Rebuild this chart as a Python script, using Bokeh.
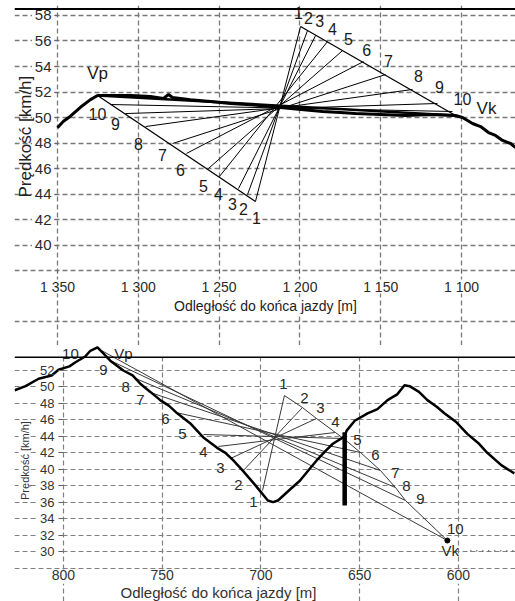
from bokeh.plotting import figure
from bokeh.layouts import column
from bokeh.models import Range1d, FixedTicker, Span, Label, BoxAnnotation, ColumnDataSource
from bokeh.core.properties import value
from bokeh.embed import file_html
from bokeh.resources import INLINE

# ---------------- top chart data ----------------
top_dist = [1350.0, 1346.3, 1342.0, 1335.8, 1329.6, 1325.2, 1317.2, 1304.8, 1292.5, 1284.4,
            1281.3, 1278.8, 1267.7, 1255.3, 1242.9, 1230.6, 1218.2, 1205.8, 1186.0, 1174.9,
            1165.6, 1150.1, 1134.7, 1119.2, 1103.7, 1099.4, 1093.2, 1088.2, 1083.3, 1079.0,
            1074.6, 1069.6, 1066.6]
top_speed = [49.2, 49.7, 50.1, 50.8, 51.4, 51.73, 51.73, 51.73, 51.65, 51.5,
             51.8, 51.57, 51.4, 51.25, 51.1, 51.0, 50.86, 50.71, 50.47, 50.39,
             50.31, 50.24, 50.16, 50.24, 50.16, 50.0, 49.53, 49.29, 48.82, 48.59,
             48.2, 47.96, 47.65]

top_vp = (1325.2, 51.73)
top_vk = (1103.7, 50.16)

top_num = ["1", "2", "3", "4", "5", "6", "7", "8", "9", "10"]
top_upper_x = [1199.6, 1195.3, 1190.3, 1182.9, 1173.6, 1160.6, 1147.0, 1130.3, 1114.9, 1105.6]
top_upper_y = [57.14, 56.82, 56.43, 55.96, 55.25, 54.39, 53.37, 52.20, 51.10, 50.47]
top_lower_x = [1227.5, 1232.4, 1238.0, 1249.8, 1256.6, 1270.2, 1278.8, 1295.5, 1307.9, 1317.2]
top_lower_y = [43.41, 43.96, 44.43, 45.37, 46.00, 47.18, 47.96, 49.29, 50.31, 51.02]

top_x_ticks = [1350, 1300, 1250, 1200, 1150, 1100]
top_x_labels = ["1 350", "1 300", "1 250", "1 200", "1 150", "1 100"]
top_y_ticks = [40, 42, 44, 46, 48, 50, 52, 54, 56, 58]
top_y_grid = [34, 38, 40, 42, 44, 46, 48, 50, 52, 54, 56, 58]

# ---------------- bottom chart data ----------------
bot_dist = [824.7, 819.2, 812.6, 806.0, 802.5, 797.0, 793.9, 789.0, 786.4, 782.8,
            780.3, 776.3, 769.7, 765.0, 761.1, 756.0, 751.0, 746.5, 742.4, 735.9,
            729.3, 722.2, 718.0, 714.1, 709.1, 703.0, 696.5, 693.9, 691.4, 685.0,
            680.3, 675.5, 671.7, 667.0, 663.6, 657.6, 656.6, 652.5, 646.0, 641.0,
            635.9, 631.0, 627.3, 624.7, 620.0, 615.7, 611.0, 607.1, 601.0, 595.5,
            590.0, 585.4, 578.3, 571.7]
bot_speed = [49.6, 50.1, 51.0, 51.4, 52.1, 52.5, 53.0, 53.7, 54.4, 54.8,
             54.2, 53.2, 52.0, 51.4, 50.4, 49.4, 48.4, 47.7, 46.8, 45.6,
             43.9, 42.6, 42.0, 41.1, 39.8, 38.1, 36.2, 36.0, 36.2, 37.6,
             38.6, 40.0, 41.1, 42.3, 43.1, 44.0, 44.7, 45.9, 46.8, 47.3,
             48.4, 49.1, 50.2, 50.1, 49.4, 48.4, 47.6, 46.8, 45.7, 44.3,
             43.2, 42.0, 40.5, 39.5]

bot_vp = (782.8, 54.8)
bot_vk = (605.6, 31.34)
bot_bar_x = 657.6
bot_bar_y = (35.6, 44.5)
bot_after_vk_x = [594.0, 571.5]
bot_after_vk_y = [30.1, 30.1]

bot_num = ["1", "2", "3", "4", "5", "6", "7", "8", "9", "10"]
bot_left_x = [699.2, 708.9, 715.4, 721.5, 729.1, 743.3, 756.0, 763.5, 775.2, 782.8]
bot_left_y = [37.42, 39.85, 41.31, 42.77, 44.22, 46.90, 49.33, 51.03, 53.09, 54.70]
bot_right_x = [688.1, 679.0, 671.9, 662.3, 658.2, 649.6, 639.5, 631.9, 626.8, 605.6]
bot_right_y = [48.96, 47.50, 46.17, 44.47, 43.74, 42.04, 39.85, 37.78, 36.20, 31.34]

bot_x_ticks = [800, 750, 700, 650, 600]
bot_y_ticks = [30, 32, 34, 36, 38, 40, 42, 44, 46, 48, 50, 52]
bot_y_grid = [28, 30, 32, 34, 36, 38, 40, 42, 44, 46, 48, 50, 52]

FONT = "Liberation Sans"


def style_axis(ax, size, color, tick_out, standoff):
    ax.axis_line_color = None
    ax.major_tick_in = 0
    ax.major_tick_out = tick_out
    ax.major_tick_line_color = "#666666"
    ax.minor_tick_line_color = None
    ax.major_label_text_font = FONT
    ax.major_label_text_font_size = size
    ax.major_label_text_color = color
    ax.major_label_standoff = standoff


def white_box(p, **kw):
    p.add_layout(BoxAnnotation(fill_color="white", fill_alpha=1.0, line_alpha=0,
                               level="underlay", **kw))


# ================= TOP FIGURE =================
p1 = figure(width=515, height=345, x_range=Range1d(1376.6, 1066.6), y_range=Range1d(32.12, 58.784),
            output_backend="svg", toolbar_location=None,
            min_border_left=14, min_border_right=0, min_border_top=5, min_border_bottom=0)
p1.outline_line_color = None
p1.border_fill_color = "white"
p1.xgrid.ticker = FixedTicker(ticks=top_x_ticks)
p1.ygrid.ticker = FixedTicker(ticks=top_y_grid)
for g in (p1.xgrid, p1.ygrid):
    g.grid_line_color = "#7a7a7a"
    g.grid_line_dash = "5 3"
    g.grid_line_width = 1.3
# label backgrounds (interrupt the grid where tick labels sit)
white_box(p1, left=1352.6, right=1365.8, bottom=39.0, top=58.7)
white_box(p1, bottom=36.2, top=37.3)

xa = p1.xaxis[0]
xa.fixed_location = 38
xa.ticker = FixedTicker(ticks=top_x_ticks)
xa.major_label_overrides = {t: l for t, l in zip(top_x_ticks, top_x_labels)}
style_axis(xa, "14px", "#2a2a2a", 3, 5)
ya = p1.yaxis[0]
ya.fixed_location = 1350
ya.ticker = FixedTicker(ticks=top_y_ticks)
style_axis(ya, "15px", "#2a2a2a", 3, 3)

p1.add_layout(Span(location=58.5, dimension="width", line_color="black", line_width=2))

# fan construction
p1.segment(top_lower_x, top_lower_y, top_upper_x, top_upper_y, line_color="black", line_width=1)
p1.line([top_vp[0], top_lower_x[0]], [top_vp[1], top_lower_y[0]], line_color="black", line_width=1.3)
p1.line([top_upper_x[0], top_vk[0]], [top_upper_y[0], top_vk[1]], line_color="black", line_width=1.3)
p1.line([top_vp[0], top_vk[0]], [top_vp[1], top_vk[1]], line_color="black", line_width=2.5)
# speed record
p1.line(top_dist, top_speed, line_color="black", line_width=3)

up_dx = [-2, 1, 4, 5, 6, 3, 3, 6, 2, 10]
up_dy = [-13, -13, -15, -13, -12, -12, -14, -13, -16, -13]
lo_dx = [1, -4, -6, -1, -5, -6, -10, -7, -10, -13]
lo_dy = [16, 14, 15, 17, 17, 17, 11, 17, 10, 9]
src_u = ColumnDataSource(dict(x=top_upper_x, y=top_upper_y, t=top_num, dx=up_dx, dy=up_dy))
src_l = ColumnDataSource(dict(x=top_lower_x, y=top_lower_y, t=top_num, dx=lo_dx, dy=lo_dy))
for s in (src_u, src_l):
    p1.text(x="x", y="y", text="t", x_offset="dx", y_offset="dy", source=s,
            text_font=value(FONT), text_font_size="16px", text_color="#1a1a1a",
            text_align="center", text_baseline="middle")
p1.text(x=[top_vp[0], top_vk[0]], y=[top_vp[1], top_vk[1]], text=["Vp", "Vk"],
        x_offset=[0, 31], y_offset=[-22, -7],
        text_font=value(FONT), text_font_size="17px", text_color="#1a1a1a",
        text_align="center", text_baseline="middle")

p1.add_layout(Label(x=1221.3, y=35.25, text="Odległość do końca jazdy [m]", text_align="center",
                    text_baseline="middle", text_font=FONT, text_font_size="14px",
                    text_color="#222222", background_fill_color="white"))
p1.add_layout(Label(x=1369.8, y=48.5, text="Prędkość [km/h]", angle=90, angle_units="deg",
                    text_align="center", text_baseline="middle", text_font=FONT,
                    text_font_size="17px", text_color="#222222"))

# ================= BOTTOM FIGURE =================
p2 = figure(width=515, height=256, x_range=Range1d(824.8, 571.1), y_range=Range1d(23.93, 55.04),
            output_backend="svg", toolbar_location=None,
            min_border_left=14, min_border_right=0, min_border_top=0, min_border_bottom=0)
p2.outline_line_color = None
p2.border_fill_color = "white"
p2.xgrid.ticker = FixedTicker(ticks=bot_x_ticks)
p2.ygrid.ticker = FixedTicker(ticks=bot_y_grid)
for g in (p2.xgrid, p2.ygrid):
    g.grid_line_color = "#808080"
    g.grid_line_dash = "5 3"
    g.grid_line_width = 1.2
white_box(p2, bottom=53.6)
white_box(p2, left=802.4, right=813.4, bottom=29.0, top=53.0)
white_box(p2, bottom=26.1, top=27.75)
p2.add_layout(Span(location=53.6, dimension="width", line_color="black", line_width=1.5))

xb = p2.xaxis[0]
xb.fixed_location = 28
xb.ticker = FixedTicker(ticks=bot_x_ticks)
style_axis(xb, "14px", "#333333", 0, 2)
yb = p2.yaxis[0]
yb.fixed_location = 800
yb.ticker = FixedTicker(ticks=bot_y_ticks)
style_axis(yb, "13px", "#333333", 5, 4)

p2.segment(bot_left_x, bot_left_y, bot_right_x, bot_right_y, line_color="#3a3a3a", line_width=1)
p2.line(bot_right_x, bot_right_y, line_color="#3a3a3a", line_width=1)
p2.line(bot_dist, bot_speed, line_color="black", line_width=2.5)
p2.segment([bot_bar_x], [bot_bar_y[0]], [bot_bar_x], [bot_bar_y[1]], line_color="black", line_width=4.5)
p2.scatter([bot_vk[0]], [bot_vk[1]], size=5, color="black")
p2.line(bot_after_vk_x, bot_after_vk_y, line_color="#555555", line_dash="1 5", line_width=1.5)

bl_dx = [-9, -5, -10, -15, -21, -10, -10, -10, -9, -27]
bl_dy = [12, 15, 10, 6, -1, 7, 8, 9, 8, 6]
br_dx = [-1, 2, 4, 0, 14, 15, 15, 11, 15, 8]
br_dy = [-12, -10, -10, -10, 2, 3, 3, -2, -2, -12]
src_bl = ColumnDataSource(dict(x=bot_left_x, y=bot_left_y, t=bot_num, dx=bl_dx, dy=bl_dy))
src_br = ColumnDataSource(dict(x=bot_right_x, y=bot_right_y, t=bot_num, dx=br_dx, dy=br_dy))
for s in (src_bl, src_br):
    p2.text(x="x", y="y", text="t", x_offset="dx", y_offset="dy", source=s,
            text_font=value(FONT), text_font_size="15px", text_color="#2a2a2a",
            text_align="center", text_baseline="middle")
p2.text(x=[bot_vp[0], bot_vk[0]], y=[bot_vp[1], bot_vk[1]], text=["Vp", "Vk"],
        x_offset=[26, 3], y_offset=[6, 10],
        text_font=value(FONT), text_font_size="15px", text_color="#2a2a2a",
        text_align="center", text_baseline="middle")

p2.add_layout(Label(x=721.5, y=25.0, text="Odległość do końca jazdy [m]", text_align="center",
                    text_baseline="middle", text_font=FONT, text_font_size="15px",
                    text_color="#333333", background_fill_color="white"))
p2.add_layout(Label(x=819.7, y=41.06, text="Prędkość [km/h]", angle=90, angle_units="deg",
                    text_align="center", text_baseline="middle", text_font=FONT,
                    text_font_size="11px", text_color="#333333", background_fill_color="white"))

layout = column(p1, p2)
open("out.html", "w").write(file_html(layout, INLINE))
